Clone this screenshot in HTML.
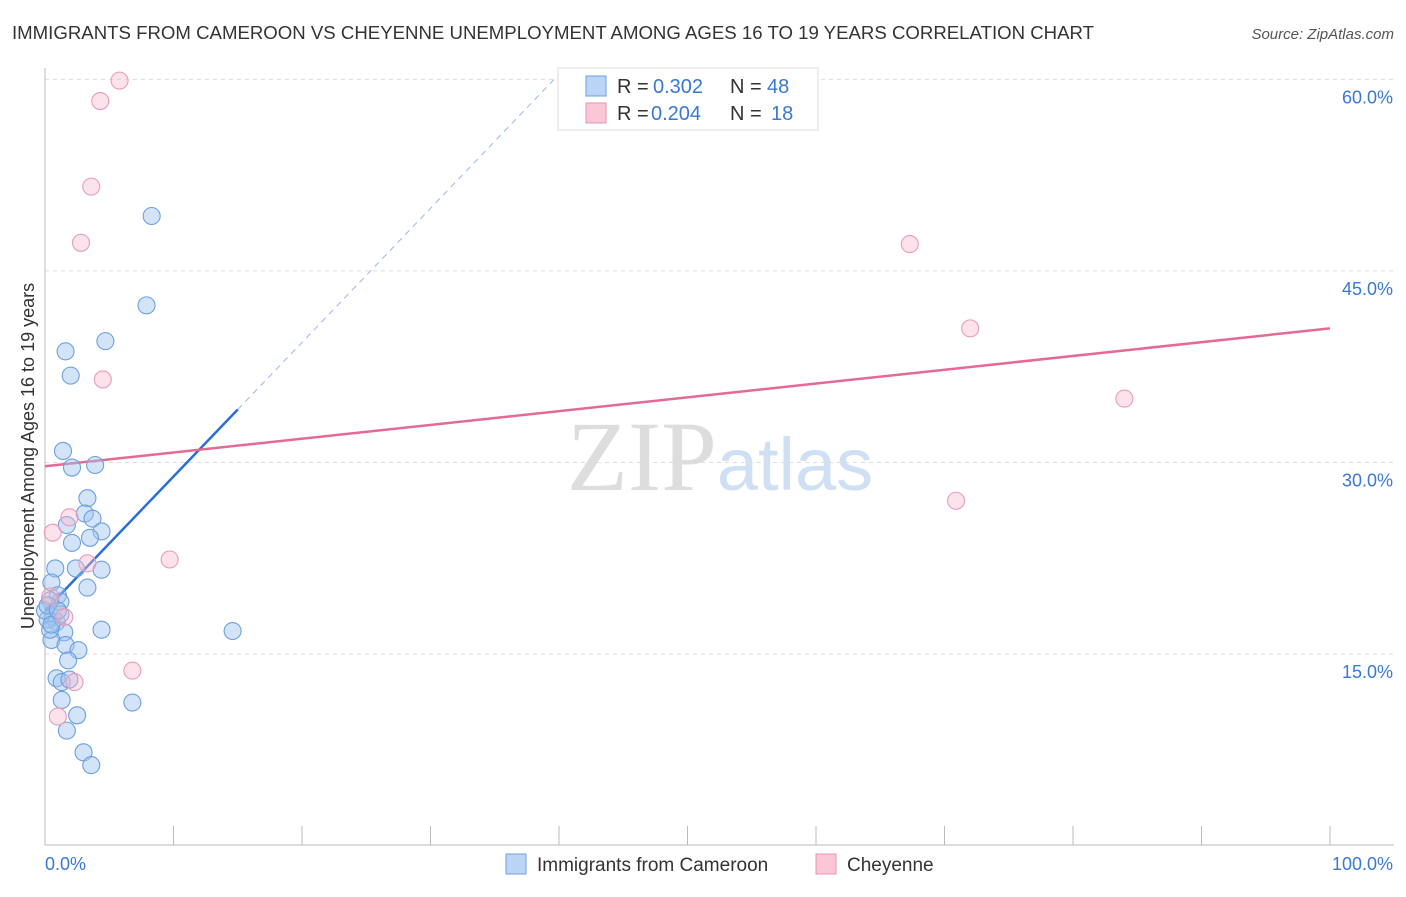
<!DOCTYPE html>
<html><head><meta charset="utf-8"><style>
body{margin:0;background:#fff;font-family:"Liberation Sans",sans-serif}
</style></head><body>
<svg id="chart" width="1406" height="892" xmlns="http://www.w3.org/2000/svg" font-family="Liberation Sans, sans-serif">
<text x="12" y="39" font-size="18" fill="#333" textLength="1082" lengthAdjust="spacingAndGlyphs">IMMIGRANTS FROM CAMEROON VS CHEYENNE UNEMPLOYMENT AMONG AGES 16 TO 19 YEARS CORRELATION CHART</text>
<text x="1394" y="39" font-size="15" fill="#555" font-style="italic" text-anchor="end">Source: ZipAtlas.com</text>
<text x="720" y="490" font-size="100" text-anchor="middle" fill="#ddd" font-family="Liberation Serif, serif">ZIP<tspan fill="#cfe0f5" font-family="Liberation Sans, sans-serif" font-size="74">atlas</tspan></text>
<g id="grid"></g><g id="axes"></g><g id="trends"></g><g id="points"></g>
<text transform="translate(34,456) rotate(-90)" font-size="18" fill="#333" text-anchor="middle">Unemployment Among Ages 16 to 19 years</text>
<g>
<rect x="558" y="68" width="260" height="62" fill="#fff" stroke="#ddd"/>
<rect x="586" y="76" width="20" height="20" fill="#b9d4f7" stroke="#6fa0e0"/>
<rect x="586" y="103" width="20" height="20" fill="#fbc6d5" stroke="#ec93ae"/>
<text x="617" y="93" font-size="20" fill="#333">R =</text>
<text x="653" y="93" font-size="20" fill="#3a78d4">0.302</text>
<text x="730" y="93" font-size="20" fill="#333">N =</text>
<text x="767" y="93" font-size="20" fill="#3a78d4">48</text>
<text x="617" y="120" font-size="20" fill="#333">R =</text>
<text x="651" y="120" font-size="20" fill="#3a78d4">0.204</text>
<text x="730" y="120" font-size="20" fill="#333">N =</text>
<text x="771" y="120" font-size="20" fill="#3a78d4">18</text>
</g>
<g>
<rect x="506" y="854" width="20" height="20" fill="#b9d4f7" stroke="#6fa0e0"/>
<text x="537" y="871" font-size="19" fill="#333">Immigrants from Cameroon</text>
<rect x="816" y="854" width="20" height="20" fill="#fbc6d5" stroke="#ec93ae"/>
<text x="847" y="871" font-size="19" fill="#333">Cheyenne</text>
</g>
</svg>
<script>
const blueX=[8.3,7.9,4.7,1.6,2.0,1.4,2.1,3.9,3.3,3.1,3.7,1.7,4.4,3.5,2.1,0.8,2.4,4.4,3.3,0.5,1.0,1.2,0.4,0.6,0.9,1.5,4.4,14.6,0.5,1.6,2.6,1.8,0.9,1.3,1.9,1.3,2.5,1.7,6.8,3.0,3.6,0.2,0.4,1.2,0.0,0.5,0.2,1.0];
const blueY=[49.3,42.3,39.5,38.7,36.8,30.9,29.6,29.8,27.2,26.0,25.6,25.1,24.6,24.1,23.7,21.7,21.7,21.6,20.2,20.6,19.6,19.1,19.2,17.9,17.5,16.7,16.9,16.8,16.1,15.7,15.3,14.5,13.1,12.8,13.0,11.4,10.2,9.0,11.2,7.3,6.3,17.7,16.9,18.1,18.4,17.3,18.8,18.4];
const pinkX=[5.8,4.3,3.6,2.8,4.5,67.3,72.0,84.0,70.9,9.7,1.9,0.6,3.3,1.5,6.8,2.3,1.0,0.4];
const pinkY=[59.9,58.3,51.6,47.2,36.5,47.1,40.5,35.0,27.0,22.4,25.7,24.5,22.1,17.9,13.7,12.8,10.1,19.5];
const yTicks=[15,30,45,60];
const xTickLabels=["0.0%","100.0%"];
const blueTrend=[18.4,1.05];
const pinkTrend=[29.7,0.108];
const sx=v=>45+v*12.85, sy=v=>654-(v-15)*12.77;
const NS="http://www.w3.org/2000/svg";
function mk(p,t,a){const e=document.createElementNS(NS,t);for(const k in a)e.setAttribute(k,a[k]);p.appendChild(e);return e;}
const grid=document.getElementById('grid'),axes=document.getElementById('axes');
yTicks.forEach(v=>{
 const l=mk(grid,'line',{x1:45,x2:1394,y1:sy(v),y2:sy(v),stroke:'#ddd','stroke-dasharray':'4,4'});
 
 
 const t=mk(grid,'text',{x:1393,y:sy(v)+24,'font-size':18,fill:'#3a78d4','text-anchor':'end'});t.textContent=v.toFixed(1)+'%';
 
 
});
mk(axes,'line',{x1:45,x2:45,y1:68,y2:845,stroke:'#bbb'});
mk(axes,'line',{x1:45,x2:1394,y1:845,y2:845,stroke:'#bbb'});
for(let i=1;i<=10;i++){mk(axes,'line',{x1:sx(i*10),x2:sx(i*10),y1:826,y2:845,stroke:'#bbb'});}
const t0=mk(axes,'text',{x:45,y:870,'font-size':18,fill:'#3a78d4'});t0.textContent=xTickLabels[0];


const t1=mk(axes,'text',{x:1393,y:870,'font-size':18,fill:'#3a78d4','text-anchor':'end'});t1.textContent=xTickLabels[1];


const tr=document.getElementById('trends');
const bl=mk(tr,'line',{x1:sx(0),y1:sy(blueTrend[0]),x2:sx(15),y2:sy(blueTrend[0]+15*blueTrend[1]),stroke:'#2a6fd6','stroke-width':2.5});


const xe=(60.4-blueTrend[0])/blueTrend[1];
const bd=mk(tr,'line',{x1:sx(15),y1:sy(blueTrend[0]+15*blueTrend[1]),x2:sx(xe),y2:sy(60.4),stroke:'#9ab8e0','stroke-width':1,'stroke-dasharray':'6,5'});


const pl=mk(tr,'line',{x1:sx(0),y1:sy(pinkTrend[0]),x2:sx(100),y2:sy(pinkTrend[0]+100*pinkTrend[1]),stroke:'#e46a92','stroke-width':2.5});


const pts=document.getElementById('points');
blueX.forEach((x,i)=>{const c=mk(pts,'circle',{cx:sx(x),cy:sy(blueY[i]),r:8.5,fill:'rgba(160,196,240,0.45)',stroke:'#6c9fe0','stroke-width':1.1});
 
 });
pinkX.forEach((x,i)=>{const c=mk(pts,'circle',{cx:sx(x),cy:sy(pinkY[i]),r:8.5,fill:'rgba(248,184,204,0.4)',stroke:'#eb9bb5','stroke-width':1.1});
 
 });
</script>
</body></html>
